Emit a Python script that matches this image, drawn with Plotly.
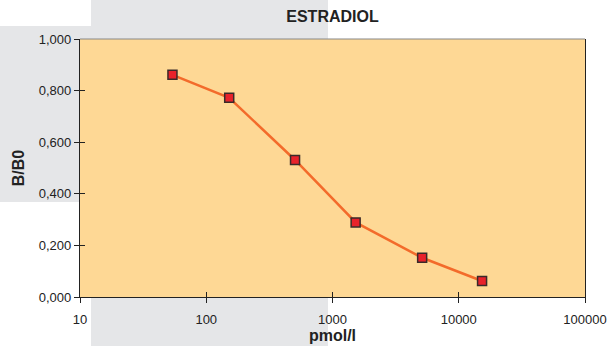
import plotly.graph_objects as go

conc = [54, 152, 505, 1525, 5130, 15300]
bb0 = [0.861, 0.772, 0.531, 0.289, 0.152, 0.062]
x_ticks = [10, 100, 1000, 10000, 100000]
x_labels = ["10", "100", "1000", "10000", "100000"]
y_ticks = [0, 0.2, 0.4, 0.6, 0.8, 1.0]
y_labels = ["0,000", "0,200", "0,400", "0,600", "0,800", "1,000"]

W, H = 609, 346
L, R, T, B = 80, 24, 39, 49
PW, PH = W - L - R, H - T - B

fig = go.Figure()
fig.add_trace(go.Scatter(
    x=conc, y=bb0, mode="lines+markers",
    line=dict(color="#F36B2B", width=2.5),
    marker=dict(symbol="square", size=9, color="#E8222B",
                line=dict(color="#3A2A2A", width=1.5)),
    showlegend=False, hoverinfo="skip"))
fig.add_trace(go.Scatter(x=[100], y=[0.5], xaxis="x2", yaxis="y2",
                         mode="markers", marker=dict(opacity=0),
                         showlegend=False, hoverinfo="skip"))

FAM = "Liberation Sans, Arial, sans-serif"
font = dict(family=FAM, size=13, color="#222")

def px_x(p):
    return (p - L) / PW

def px_y(p):
    return (H - B - p) / PH

fig.update_layout(
    width=W, height=H,
    margin=dict(l=L, r=R, t=T, b=B, autoexpand=False),
    paper_bgcolor="white",
    plot_bgcolor="rgba(0,0,0,0)",
    font=font,
    title=dict(text="<b>ESTRADIOL</b>", x=(L + (W - R)) / 2 / W, xanchor="center",
               y=1 - 16 / H, yanchor="middle",
               font=dict(family=FAM, size=16, color="#222")),
    xaxis=dict(type="log", range=[1, 5], tickvals=x_ticks, ticktext=x_labels,
               showgrid=False, zeroline=False, showline=True, linecolor="#222",
               linewidth=1.2, ticks="outside", ticklen=5, tickcolor="#222",
               tickfont=font, ticklabelstandoff=5, automargin=False,
               title=dict(text="<b>pmol/l</b>", standoff=2,
                          font=dict(family=FAM, size=16, color="#222"))),
    yaxis=dict(range=[0, 1], tickvals=y_ticks, ticktext=y_labels,
               showgrid=False, zeroline=False, showline=True, linecolor="#222",
               linewidth=1.2, mirror=True, ticks="outside", ticklen=5, tickcolor="#222",
               tickfont=font, automargin=False,
               title=dict(text="<b>B/B0</b>", standoff=10,
                          font=dict(family=FAM, size=16, color="#222"))),
    xaxis2=dict(type="log", range=[1, 5], overlaying="x", tickvals=x_ticks,
                showticklabels=False, ticks="inside", ticklen=5, tickcolor="#222",
                showgrid=False, zeroline=False, showline=False),
    yaxis2=dict(range=[0, 1], overlaying="y", tickvals=y_ticks,
                showticklabels=False, ticks="inside", ticklen=5, tickcolor="#222",
                showgrid=False, zeroline=False, showline=False),
    shapes=[
        dict(type="rect", xref="paper", yref="paper", layer="below",
             x0=px_x(91), x1=px_x(328), y0=px_y(H + 5), y1=px_y(-5),
             fillcolor="#E5E6E8", line=dict(width=0)),
        dict(type="rect", xref="paper", yref="paper", layer="below",
             x0=px_x(-5), x1=px_x(91), y0=px_y(202), y1=px_y(26),
             fillcolor="#E5E6E8", line=dict(width=0)),
        dict(type="rect", xref="paper", yref="paper", layer="below",
             x0=0, x1=1, y0=0, y1=1,
             fillcolor="#FED895", line=dict(width=0)),
        dict(type="line", xref="paper", yref="paper", x0=0, x1=1, y0=1, y1=1,
             line=dict(color="#888", width=1.2)),
    ],
)

fig.write_html("out.html")
